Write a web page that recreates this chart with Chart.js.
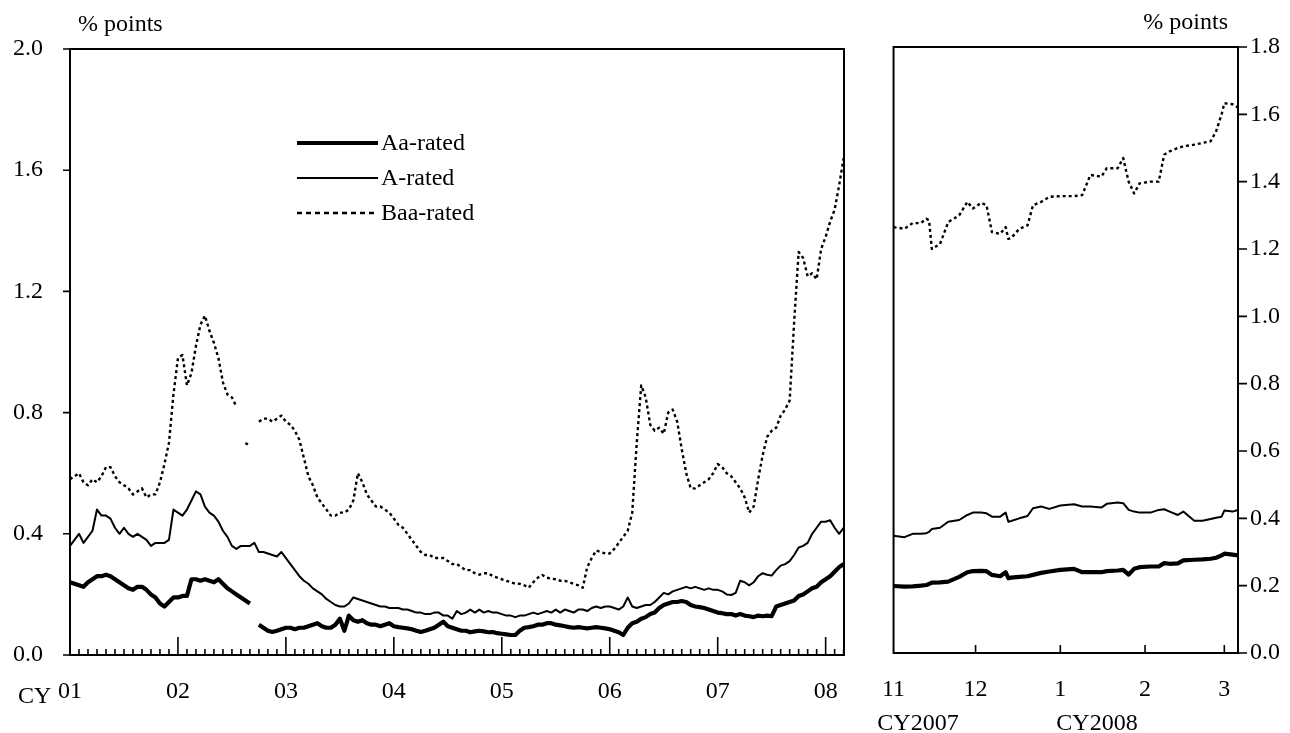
<!DOCTYPE html>
<html>
<head>
<meta charset="utf-8">
<script src="https://cdn.jsdelivr.net/npm/chart.js@4.4.1/dist/chart.umd.min.js"></script>
<style>
  html, body { margin: 0; padding: 0; background: #fff; }
  #wrap { position: relative; width: 1290px; height: 733px; }
  #leftChart { position: absolute; left: 0; top: 0; }
  #rightChart { position: absolute; left: 860px; top: 0; }
</style>
</head>
<body>
<div id="wrap">
  <canvas id="leftChart" width="860" height="733"></canvas>
  <canvas id="rightChart" width="430" height="733"></canvas>
</div>
<script>
// Left panel: semi-monthly readings, Jan 2001 - Mar 2008
const leftStart = 2001;
const leftStep = 1 / 24;
const leftYears = [2001, 2002, 2003, 2004, 2005, 2006, 2007, 2008];
const leftYearLabels = ['01', '02', '03', '04', '05', '06', '07', '08'];
const leftYTicks = [0, 0.4, 0.8, 1.2, 1.6, 2.0];

const leftAa = [
  0.24,0.235,0.23,0.225,0.24,0.25,0.26,0.26,0.265,0.26,
  0.25,0.24,0.23,0.22,0.215,0.225,0.225,0.215,0.20,0.19,
  0.17,0.16,0.175,0.19,0.19,0.195,0.195,0.25,0.25,0.245,
  0.25,0.245,0.24,0.25,0.235,0.22,0.21,0.20,0.19,0.18,
  0.17,null,0.10,0.09,0.08,0.076,0.08,0.085,0.09,0.09,
  0.085,0.09,0.09,0.095,0.10,0.105,0.095,0.09,0.09,0.10,
  0.12,0.08,0.13,0.115,0.11,0.115,0.105,0.10,0.10,0.095,
  0.10,0.105,0.095,0.092,0.09,0.088,0.085,0.08,0.076,0.08,
  0.085,0.09,0.10,0.11,0.095,0.09,0.085,0.08,0.08,0.075,
  0.078,0.08,0.078,0.075,0.076,0.072,0.07,0.068,0.066,0.066,
  0.08,0.09,0.092,0.095,0.10,0.10,0.105,0.105,0.10,0.098,
  0.095,0.092,0.09,0.092,0.09,0.088,0.09,0.092,0.09,0.088,
  0.085,0.08,0.075,0.066,0.09,0.105,0.11,0.12,0.125,0.135,
  0.14,0.155,0.165,0.17,0.175,0.175,0.178,0.175,0.165,0.16,
  0.158,0.155,0.15,0.145,0.14,0.138,0.135,0.135,0.13,0.135,
  0.13,0.128,0.125,0.13,0.128,0.13,0.128,0.16,0.165,0.17,
  0.175,0.18,0.195,0.20,0.21,0.22,0.225,0.24,0.25,0.26,
  0.275,0.29,0.30
];
const leftA = [
  0.36,0.38,0.40,0.37,0.39,0.41,0.48,0.46,0.46,0.45,
  0.42,0.40,0.42,0.40,0.39,0.40,0.39,0.38,0.36,0.37,
  0.37,0.37,0.38,0.48,0.47,0.46,0.48,0.51,0.54,0.53,
  0.49,0.47,0.46,0.44,0.41,0.39,0.36,0.35,0.36,0.36,
  0.36,0.37,0.34,0.34,0.335,0.33,0.325,0.34,0.32,0.30,
  0.28,0.26,0.245,0.235,0.22,0.21,0.20,0.185,0.175,0.165,
  0.16,0.16,0.17,0.19,0.185,0.18,0.175,0.17,0.165,0.16,
  0.16,0.155,0.155,0.155,0.15,0.15,0.145,0.14,0.14,0.135,
  0.135,0.14,0.14,0.13,0.13,0.12,0.145,0.135,0.14,0.15,
  0.14,0.15,0.14,0.145,0.14,0.14,0.135,0.13,0.13,0.125,
  0.13,0.13,0.135,0.14,0.135,0.14,0.145,0.14,0.15,0.14,
  0.15,0.145,0.14,0.15,0.15,0.145,0.155,0.16,0.155,0.16,
  0.16,0.155,0.15,0.16,0.19,0.16,0.155,0.16,0.165,0.165,
  0.175,0.19,0.205,0.20,0.21,0.215,0.22,0.225,0.22,0.225,
  0.22,0.215,0.22,0.215,0.215,0.21,0.20,0.198,0.205,0.245,
  0.24,0.23,0.24,0.26,0.27,0.265,0.262,0.28,0.295,0.30,
  0.31,0.33,0.355,0.36,0.37,0.40,0.42,0.44,0.44,0.445,
  0.42,0.40,0.42
];
const leftBaa = [
  0.58,0.59,0.60,0.57,0.56,0.58,0.57,0.59,0.62,0.62,
  0.59,0.57,0.56,0.55,0.53,0.54,0.55,0.52,0.53,0.53,
  0.57,0.63,0.70,0.86,0.98,0.99,0.89,0.93,1.02,1.09,
  1.12,1.07,1.03,0.98,0.90,0.86,0.85,0.82,null,0.70,
  0.69,null,0.77,0.78,0.78,0.77,0.78,0.79,0.77,0.76,
  0.74,0.71,0.65,0.59,0.56,0.52,0.50,0.48,0.46,0.46,
  0.47,0.47,0.48,0.51,0.60,0.57,0.53,0.51,0.49,0.49,
  0.48,0.47,0.45,0.43,0.42,0.40,0.38,0.36,0.34,0.33,
  0.33,0.32,0.32,0.32,0.31,0.30,0.30,0.29,0.28,0.28,
  0.27,0.265,0.27,0.27,0.26,0.255,0.25,0.245,0.24,0.235,
  0.235,0.23,0.222,0.24,0.255,0.264,0.255,0.252,0.25,0.245,
  0.245,0.24,0.235,0.23,0.222,0.29,0.32,0.345,0.34,0.335,
  0.335,0.35,0.37,0.39,0.41,0.47,0.70,0.89,0.85,0.76,
  0.74,0.75,0.73,0.80,0.81,0.77,0.68,0.60,0.55,0.55,
  0.56,0.57,0.58,0.60,0.63,0.62,0.60,0.59,0.57,0.55,
  0.52,0.47,0.49,0.58,0.66,0.72,0.74,0.75,0.79,0.81,
  0.84,1.10,1.33,1.31,1.25,1.26,1.24,1.34,1.38,1.43,
  1.47,1.55,1.64
];

// Right panel: days since 1 Nov 2007
const rightDays = [0,4,7,10,12,13,14,17,20,24,27,29,32,34,36,39,41,42,43,46,49,51,54,57,61,66,69,72,76,78,82,84,86,88,90,94,97,99,101,104,106,110,113,116,118,120,121,124,126];
const rightAa = [0.199,0.197,0.198,0.200,0.202,0.205,0.209,0.210,0.212,0.226,0.240,0.243,0.244,0.243,0.232,0.228,0.240,0.222,0.224,0.226,0.228,0.232,0.238,0.242,0.247,0.250,0.240,0.240,0.240,0.243,0.245,0.247,0.233,0.250,0.255,0.257,0.257,0.267,0.265,0.266,0.275,0.277,0.278,0.280,0.283,0.290,0.295,0.292,0.290];
const rightA = [0.348,0.344,0.354,0.354,0.356,0.360,0.368,0.372,0.390,0.395,0.410,0.417,0.417,0.415,0.405,0.405,0.417,0.390,0.392,0.400,0.407,0.430,0.435,0.428,0.438,0.442,0.435,0.435,0.432,0.443,0.447,0.445,0.425,0.420,0.417,0.417,0.425,0.427,0.420,0.410,0.420,0.393,0.393,0.398,0.402,0.405,0.423,0.420,0.425];
const rightBaa = [1.265,1.260,1.277,1.277,1.290,1.285,1.200,1.215,1.280,1.300,1.340,1.320,1.337,1.330,1.250,1.245,1.265,1.230,1.232,1.260,1.270,1.330,1.340,1.355,1.357,1.357,1.360,1.420,1.415,1.440,1.440,1.470,1.400,1.365,1.395,1.400,1.400,1.480,1.490,1.500,1.505,1.510,1.515,1.520,1.550,1.600,1.633,1.630,1.620];
const rightTickDays = [0, 30, 61, 92, 121];
const rightTickLabels = ['11', '12', '1', '2', '3'];
const rightYTicks = [0, 0.2, 0.4, 0.6, 0.8, 1.0, 1.2, 1.4, 1.6, 1.8];

const seriesNames = ['Aa-rated', 'A-rated', 'Baa-rated'];
const FONT = '"Liberation Serif", "Times New Roman", serif';
const FS = 24;

Chart.defaults.font.family = FONT;
Chart.defaults.font.size = FS;
Chart.defaults.color = '#000';

function lineSet(label, pts, width, dash) {
  return {
    label, data: pts, borderColor: '#000', borderWidth: width,
    borderDash: dash, pointRadius: 0, tension: 0, spanGaps: false,
    borderJoinStyle: 'round', borderCapStyle: 'butt'
  };
}

// frame, inward x ticks, outward y ticks
const frameTicks = {
  id: 'frameTicks',
  afterDraw(chart, args, o) {
    const { ctx, chartArea: a, scales: { x, y } } = chart;
    ctx.save();
    ctx.strokeStyle = '#000';
    ctx.lineWidth = 2;
    ctx.strokeRect(a.left, a.top, a.right - a.left, a.bottom - a.top);
    ctx.lineWidth = 1.6;
    ctx.beginPath();
    y.ticks.forEach(t => {
      const py = y.getPixelForValue(t.value);
      if (o.ySide === 'left') { ctx.moveTo(a.left - o.yLen, py); ctx.lineTo(a.left, py); }
      else { ctx.moveTo(a.right, py); ctx.lineTo(a.right + o.yLen, py); }
    });
    o.xMarks.forEach(m => {
      const px = x.getPixelForValue(m.v);
      ctx.moveTo(px, a.bottom);
      ctx.lineTo(px, a.bottom - m.len);
    });
    ctx.stroke();
    // captions
    ctx.fillStyle = '#000';
    ctx.font = FS + 'px ' + FONT;
    ctx.textBaseline = 'alphabetic';
    (o.texts || []).forEach(t => {
      ctx.textAlign = t.align || 'left';
      ctx.fillText(t.s, t.x, t.y);
    });
    ctx.restore();
  }
};

const legendBox = {
  id: 'legendBox',
  afterDraw(chart, args, o) {
    if (!o.show) return;
    const { ctx } = chart;
    ctx.save();
    chart.data.datasets.forEach((ds, k) => {
      const yy = o.y0 + k * o.gap;
      ctx.strokeStyle = '#000';
      ctx.lineWidth = ds.borderWidth;
      ctx.setLineDash(k === 2 ? [5, 4] : []);
      ctx.beginPath();
      ctx.moveTo(o.x0, yy);
      ctx.lineTo(o.x1, yy);
      ctx.stroke();
      ctx.setLineDash([]);
      ctx.fillStyle = '#000';
      ctx.font = FS + 'px ' + FONT;
      ctx.textAlign = 'left';
      ctx.textBaseline = 'middle';
      ctx.fillText(ds.label, o.x1 + 3, yy + 1);
    });
    ctx.restore();
  }
};

const noGrid = { display: false, drawTicks: false };

// left chart
const leftPts = arr => arr.map((v, i) => ({ x: leftStart + i * leftStep, y: v }));
const leftMarks = [];
for (let m = 0; leftStart + m / 12 <= 2008.17; m++) {
  leftMarks.push({ v: leftStart + m / 12, len: m % 12 === 0 ? 18 : 6 });
}

new Chart(document.getElementById('leftChart'), {
  type: 'line',
  data: {
    datasets: [
      lineSet(seriesNames[0], leftPts(leftAa), 4.2, []),
      lineSet(seriesNames[1], leftPts(leftA), 2, []),
      lineSet(seriesNames[2], leftPts(leftBaa), 2.4, [3, 3])
    ]
  },
  options: {
    responsive: false,
    animation: false,
    devicePixelRatio: 1,
    layout: { padding: { top: 49, right: 15, left: 0, bottom: 0 } },
    plugins: {
      legend: { display: false },
      tooltip: { enabled: false },
      frameTicks: {
        ySide: 'left', yLen: 7, xMarks: leftMarks,
        texts: [
          { s: '% points', x: 78, y: 31 },
          { s: 'CY', x: 18, y: 703 }
        ]
      },
      legendBox: { show: true, x0: 297, x1: 378, y0: 143, gap: 35 }
    },
    scales: {
      x: {
        type: 'linear', min: 2001, max: 2008.17,
        grid: noGrid, border: { display: false },
        afterBuildTicks: s => { s.ticks = leftYears.map(v => ({ value: v })); },
        afterFit: s => { s.height = 78; },
        ticks: {
          autoSkip: false, maxRotation: 0, padding: 22,
          callback: (v, i) => leftYearLabels[i]
        }
      },
      y: {
        min: 0, max: 2.0,
        grid: noGrid, border: { display: false },
        afterBuildTicks: s => { s.ticks = leftYTicks.map(v => ({ value: v })); },
        afterFit: s => { s.width = 70; },
        ticks: { padding: 27, callback: v => v.toFixed(1) }
      }
    }
  },
  plugins: [frameTicks, legendBox]
});

// right chart
const rightPts = arr => arr.map((v, i) => ({ x: rightDays[i], y: v }));

new Chart(document.getElementById('rightChart'), {
  type: 'line',
  data: {
    datasets: [
      lineSet(seriesNames[0], rightPts(rightAa), 4.2, []),
      lineSet(seriesNames[1], rightPts(rightA), 2, []),
      lineSet(seriesNames[2], rightPts(rightBaa), 2.4, [3, 3])
    ]
  },
  options: {
    responsive: false,
    animation: false,
    devicePixelRatio: 1,
    layout: { padding: { top: 47, right: 0, left: 32, bottom: 0 } },
    plugins: {
      legend: { display: false },
      tooltip: { enabled: false },
      frameTicks: {
        ySide: 'right', yLen: 9,
        xMarks: rightTickDays.slice(1).map(v => ({ v, len: 8 })),
        texts: [
          { s: '% points', x: 368, y: 29, align: 'right' },
          { s: 'CY2007', x: 58, y: 730, align: 'center' },
          { s: 'CY2008', x: 237, y: 730, align: 'center' }
        ]
      },
      legendBox: { show: false }
    },
    scales: {
      x: {
        type: 'linear', min: 0, max: 126,
        grid: noGrid, border: { display: false },
        afterBuildTicks: s => { s.ticks = rightTickDays.map(v => ({ value: v })); },
        afterFit: s => { s.height = 80; },
        ticks: {
          autoSkip: false, maxRotation: 0, padding: 22,
          callback: (v, i) => rightTickLabels[i]
        }
      },
      y: {
        position: 'right', min: 0, max: 1.8,
        grid: noGrid, border: { display: false },
        afterBuildTicks: s => { s.ticks = rightYTicks.map(v => ({ value: v })); },
        afterFit: s => { s.width = 52; },
        ticks: { padding: 12, callback: v => v.toFixed(1) }
      }
    }
  },
  plugins: [frameTicks, legendBox]
});
</script>
</body>
</html>
